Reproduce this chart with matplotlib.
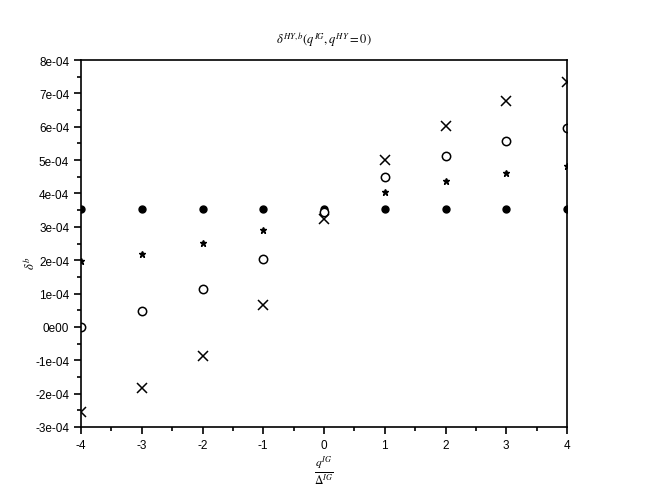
import matplotlib
matplotlib.use("Agg")
import matplotlib.pyplot as plt
from matplotlib.ticker import FuncFormatter, MultipleLocator

# 数据
q_ratio = [-4, -3, -2, -1, 0, 1, 2, 3, 4]
delta_flat = [3.54e-04, 3.54e-04, 3.54e-04, 3.54e-04, 3.54e-04, 3.54e-04, 3.54e-04, 3.54e-04, 3.54e-04]
delta_star = [1.97e-04, 2.20e-04, 2.51e-04, 2.90e-04, 3.50e-04, 4.05e-04, 4.38e-04, 4.62e-04, 4.81e-04]
delta_open = [0.00e-04, 0.49e-04, 1.14e-04, 2.04e-04, 3.44e-04, 4.49e-04, 5.12e-04, 5.58e-04, 5.95e-04]
delta_cross = [-2.56e-04, -1.84e-04, -0.86e-04, 0.67e-04, 3.23e-04, 5.00e-04, 6.03e-04, 6.77e-04, 7.33e-04]

plt.rcParams["mathtext.fontset"] = "stix"
plt.rcParams["font.family"] = ["Liberation Sans", "DejaVu Sans"]
plt.rcParams["axes.unicode_minus"] = False

fig = plt.figure(figsize=(6.48, 4.89), dpi=100)
ax = fig.add_axes([0.125, 0.125, 0.75, 0.75])

ax.plot(q_ratio, delta_flat, linestyle="none", marker="o", markersize=5,
        color="black")
ax.plot(q_ratio, delta_star, linestyle="none", marker="*", markersize=5,
        color="black")
ax.plot(q_ratio, delta_open, linestyle="none", marker="o", markersize=6,
        markerfacecolor="white", markeredgecolor="black", markeredgewidth=1.1)
ax.plot(q_ratio, delta_cross, linestyle="none", marker="x", markersize=7.5,
        color="black", markeredgewidth=1.1)

ax.set_xlim(-4, 4)
ax.set_ylim(-3e-04, 8e-04)

ax.xaxis.set_major_locator(MultipleLocator(1))
ax.xaxis.set_minor_locator(MultipleLocator(0.5))
ax.yaxis.set_major_locator(MultipleLocator(1e-04))
ax.yaxis.set_minor_locator(MultipleLocator(0.5e-04))


def sci_fmt(v, pos):
    if abs(v) < 1e-12:
        return "0e00"
    return f"{v:.0e}"


ax.yaxis.set_major_formatter(FuncFormatter(sci_fmt))

ax.tick_params(which="both", direction="out", top=False, right=False,
               labelsize=8.5, width=1.2)
ax.tick_params(which="major", length=5)
ax.tick_params(which="minor", length=3)

for s in ax.spines.values():
    s.set_linewidth(1.2)

ax.set_title(r"$\delta^{HY,b}(q^{IG},q^{HY}=0)$", fontsize=9, pad=12)
ax.set_xlabel(r"$\frac{q^{IG}}{\Delta^{IG}}$", fontsize=12, labelpad=2)
ax.set_ylabel(r"$\delta^{b}$", fontsize=9)
ax.yaxis.set_label_coords(-0.088, 0.45)

fig.savefig("out.png", dpi=100)
